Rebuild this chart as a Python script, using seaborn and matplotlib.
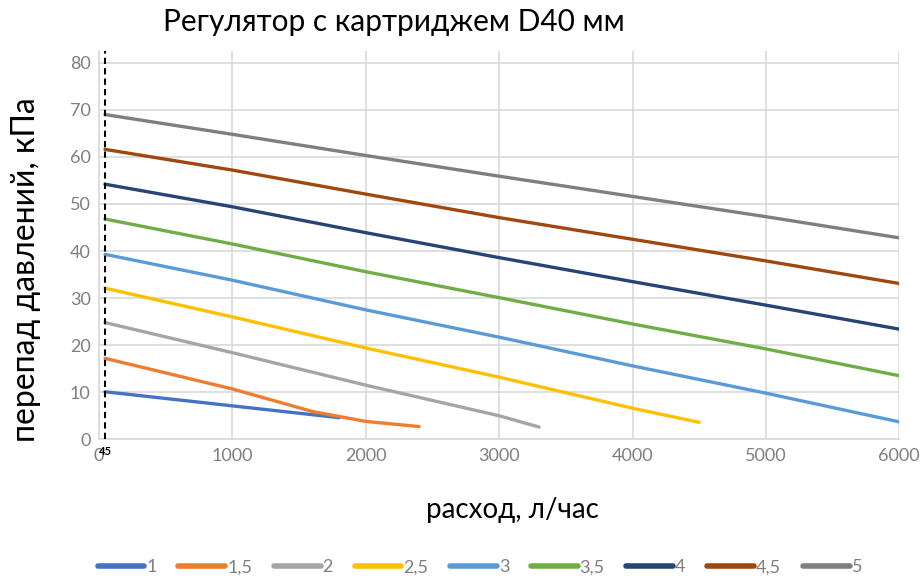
import matplotlib
matplotlib.use("Agg")
import matplotlib.pyplot as plt
import seaborn as sns
import pandas as pd

# Flow (l/h) and pressure drop (kPa) for each cartridge setting
labels = ["1", "1,5", "2", "2,5", "3", "3,5", "4", "4,5", "5"]

flow_1 = [45, 1000, 1800]
dp_1 = [10.1, 7.1, 4.6]

flow_15 = [45, 1000, 1600, 2000, 2400]
dp_15 = [17.2, 10.7, 5.9, 3.8, 2.7]

flow_2 = [45, 1000, 2000, 3000, 3300]
dp_2 = [24.8, 18.4, 11.5, 5.0, 2.6]

flow_25 = [45, 1000, 2000, 3000, 4000, 4500]
dp_25 = [32.1, 26.0, 19.4, 13.2, 6.6, 3.6]

flow_full = [45, 1000, 2000, 3000, 4000, 5000, 6000]
dp_3 = [39.3, 33.8, 27.5, 21.7, 15.6, 9.8, 3.7]
dp_35 = [46.8, 41.5, 35.6, 30.1, 24.5, 19.2, 13.5]
dp_4 = [54.2, 49.4, 43.9, 38.6, 33.5, 28.5, 23.4]
dp_45 = [61.6, 57.2, 52.1, 47.1, 42.5, 37.9, 33.1]
dp_5 = [69.0, 64.8, 60.3, 55.9, 51.6, 47.3, 42.8]

min_flow = 45

colors = ["#4472C4", "#ED7D31", "#A5A5A5", "#FFC000", "#5B9BD5",
          "#70AD47", "#264478", "#9E480E", "#7F7F7F"]

series = [
    (flow_1, dp_1), (flow_15, dp_15), (flow_2, dp_2), (flow_25, dp_25),
    (flow_full, dp_3), (flow_full, dp_35), (flow_full, dp_4),
    (flow_full, dp_45), (flow_full, dp_5),
]

rows = []
for lab, (fx, fy) in zip(labels, series):
    for a, b in zip(fx, fy):
        rows.append({"flow": a, "dp": b, "setting": lab})
df = pd.DataFrame(rows)

sns.set_theme(style="white")
plt.rcParams["font.family"] = ["Lato", "DejaVu Sans"]

fig = plt.figure(figsize=(9.21, 5.79), dpi=100)
ax = fig.add_axes([0.1075, 0.2413, 0.8689, 0.6706])

sns.lineplot(data=df, x="flow", y="dp", hue="setting", hue_order=labels,
             palette=colors, sort=False, linewidth=2.4, ax=ax, legend=False)

ax.axvline(min_flow, color="black", linestyle=(0, (3, 2)), linewidth=1.5, zorder=5)
ax.text(min_flow, -1.4, str(min_flow), ha="center", va="top", fontsize=8,
        fontweight="bold", color="black", zorder=6)

ax.set_xlim(0, 6000)
ax.set_ylim(0, 82.5)
ax.set_xticks(range(0, 6001, 1000))
ax.set_yticks(range(0, 81, 10))
ax.grid(True, color="#D9D9D9", linewidth=1.2)
for s in ["top", "right"]:
    ax.spines[s].set_visible(False)
ax.spines["bottom"].set_color("#D9D9D9")
ax.spines["left"].set_color("#D9D9D9")
ax.spines["bottom"].set_linewidth(1.2)
ax.spines["left"].set_linewidth(1.2)
ax.tick_params(axis="both", colors="#7F7F7F", labelsize=13, length=0, pad=6)

ax.set_xlabel("расход, л/час", fontsize=20, color="black")
ax.set_ylabel("перепад давлений, кПа", fontsize=23, color="black")
ax.xaxis.set_label_coords(0.516, -0.148)
ax.yaxis.set_label_coords(-0.072, 0.436)

fig.text(0.177, 0.962, "Регулятор с картриджем D40 мм", fontsize=21.5,
         color="black", ha="left", va="center")

handles = [plt.Line2D([0], [0], color=c, linewidth=4) for c in colors]
leg = fig.legend(handles, labels, loc="center", bbox_to_anchor=(0.521, 0.02),
                 ncol=9, frameon=False, fontsize=13, handlelength=2.6,
                 handletextpad=0.1, columnspacing=1.2)
for t in leg.get_texts():
    t.set_color("#7F7F7F")

fig.savefig("out.png", dpi=100)
